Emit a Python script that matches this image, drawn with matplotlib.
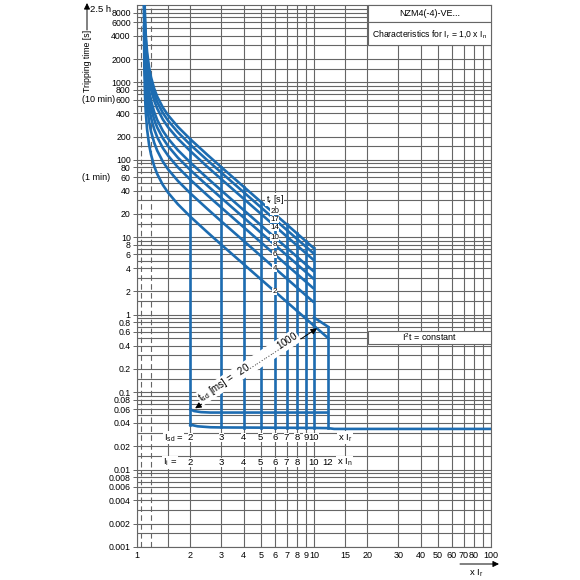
import math
import matplotlib
matplotlib.use('Agg')
import matplotlib.pyplot as plt
from matplotlib.patches import Rectangle
from matplotlib.transforms import blended_transform_factory

plt.rcParams['font.family'] = ['Liberation Sans', 'DejaVu Sans']
plt.rcParams['mathtext.fontset'] = 'custom'
plt.rcParams['mathtext.rm'] = 'Liberation Sans'
plt.rcParams['mathtext.it'] = 'Liberation Sans:italic'
plt.rcParams['font.size'] = 6.5

# long-time delay curves (tripping time in s at multiples of Ir)
lt_current = [1.095, 1.10, 1.11, 1.12, 1.14, 1.17, 1.2, 1.25, 1.3, 1.4, 1.5, 1.7, 2, 2.5, 3, 6, 10]
t_tr2 = [5500, 1580, 660, 422, 248, 157, 117, 83.4, 65.8, 47.4, 37.6, 26.8, 18.5, 11.6, 8.0, 2.0, 0.72]
t_tr4 = [11000, 3170, 1320, 844, 496, 314, 233, 167, 132, 94.8, 75.2, 53.6, 37.0, 23.2, 16.0, 4.0, 1.44]
t_tr6 = [16500, 4750, 1980, 1266, 744, 470, 350, 250, 197, 142, 113, 80.4, 55.5, 34.8, 24.1, 6.0, 2.16]
t_tr8 = [22000, 6340, 2640, 1690, 992, 627, 466, 334, 263, 190, 150, 107, 74.0, 46.4, 32.1, 8.0, 2.88]
t_tr10 = [27500, 7920, 3300, 2110, 1240, 784, 583, 417, 329, 237, 188, 134, 92.5, 58.0, 40.1, 10.0, 3.6]
t_tr14 = [38500, 11100, 4620, 2950, 1740, 1100, 816, 584, 461, 332, 263, 188, 130, 81.2, 56.1, 14.0, 5.04]
t_tr17 = [46800, 13500, 5610, 3590, 2110, 1330, 991, 709, 559, 403, 320, 228, 157, 98.6, 68.2, 17.0, 6.12]
t_tr20 = [55000, 15800, 6600, 4220, 2480, 1570, 1170, 834, 658, 474, 376, 268, 185, 116, 80.2, 20.0, 7.2]
tr_settings = [2, 4, 6, 8, 10, 14, 17, 20]
tr_label_y = [2, 4, 6, 8, 10, 13.3, 16.9, 21.5]

# tr = 2 s curve continues up to 12 x Ir
tr2_ext_current = [10, 12]
tr2_ext_time = [0.72, 0.50]

# short-time pick-up Isd (vertical drops)
isd_settings = [2, 3, 4, 5, 6, 7, 8, 9, 10]
isd_top = [185, 80.2, 45.0, 28.8, 20.0, 14.7, 11.3, 8.9, 7.2]
isd_bottom = [0.038, 0.035, 0.0349, 0.0348, 0.0347, 0.0346, 0.0345, 0.0345, 0.0345]

# short-time delay and instantaneous levels
tsd_current = [2, 2.1, 2.3, 2.6, 12]
tsd_time = [0.060, 0.057, 0.0552, 0.0545, 0.0545]
inst_current = [2, 2.2, 2.6, 3, 5, 10, 12, 13, 100]
inst_time = [0.038, 0.0362, 0.0352, 0.035, 0.0348, 0.0345, 0.0343, 0.0335, 0.0335]
i2t_current = [10, 12]
i2t_time = [0.92, 0.70]
ii_max_current = [12, 12]
ii_max_time = [0.70, 0.0343]

# axis ticks
x_major = [1, 2, 3, 4, 5, 6, 7, 8, 9, 10, 15, 20, 30, 40, 50, 60, 70, 80, 100]
x_minor = [1.5, 90]
y_major = [0.001, 0.002, 0.004, 0.006, 0.008, 0.01, 0.02, 0.04, 0.06, 0.08,
           0.1, 0.2, 0.4, 0.6, 0.8, 1, 2, 4, 6, 8, 10, 20, 40, 60, 80,
           100, 200, 400, 600, 800, 1000, 2000, 4000, 6000, 8000]
y_minor_steps = [1.5, 3, 5, 7, 9]
decades = [0.001, 0.01, 0.1, 1, 10, 100, 1000]

isd_row_labels = ['2', '3', '4', '5', '6', '7', '8', '9', '10']
ii_settings = [2, 3, 4, 5, 6, 7, 8, 10, 12]
ii_row_labels = ['2', '3', '4', '5', '6', '7', '8', '10', '12']

blue = '#1d6cb1'
grid_col = '#666666'

fig = plt.figure(figsize=(5.8, 5.8), dpi=100)
ax = fig.add_axes([137 / 580, 33 / 580, 354 / 580, 542 / 580])
ax.set_xscale('log')
ax.set_yscale('log')
ax.set_xlim(1, 100)
ax.set_ylim(0.001, 10000)

ax.set_xticks(x_major)
ax.set_xticklabels([str(v) for v in x_major])
ax.set_xticks(x_minor, minor=True)
ax.set_xticklabels([], minor=True)
ax.set_yticks(y_major)
ax.set_yticklabels([f'{v:g}' for v in y_major])
ax.set_yticks([d * s for d in decades for s in y_minor_steps], minor=True)
ax.set_yticklabels([], minor=True)
ax.tick_params(axis='x', which='both', length=0, pad=3, labelsize=6.5)
ax.tick_params(axis='y', which='major', length=3, width=0.7, color=grid_col, pad=1.5, labelsize=6.3)
ax.tick_params(axis='y', which='minor', length=0)
ax.grid(True, which='both', color=grid_col, lw=0.8)
for sp in ax.spines.values():
    sp.set_color(grid_col)
    sp.set_linewidth(0.8)

# dashed limits near 1.05 and 1.2 x Ir
for xv in [1.05, 1.2]:
    ax.axvline(xv, color=grid_col, lw=0.8, ls=(0, (5, 3)), zorder=2)

# curves
lw = 1.9
for t_vals in [t_tr2, t_tr4, t_tr6, t_tr8, t_tr10, t_tr14, t_tr17, t_tr20]:
    ax.plot(lt_current, t_vals, color=blue, lw=lw, zorder=3, solid_capstyle='butt')
ax.plot(tr2_ext_current, tr2_ext_time, color=blue, lw=lw, zorder=3)
for xs, top, bot in zip(isd_settings, isd_top, isd_bottom):
    ax.plot([xs, xs], [top, bot], color=blue, lw=lw, zorder=3)
ax.plot(tsd_current, tsd_time, color=blue, lw=lw, zorder=3)
ax.plot(inst_current, inst_time, color=blue, lw=lw, zorder=3)
ax.plot(i2t_current, i2t_time, color=blue, lw=lw, zorder=3)
ax.plot(ii_max_current, ii_max_time, color=blue, lw=lw, zorder=3)

# tr labels along 6 x Ir
lbl_box = dict(fc='white', ec='none', pad=0.1)
for tr, ty in zip(tr_settings, tr_label_y):
    ax.text(6, ty, str(tr), ha='center', va='center', fontsize=5.8, bbox=lbl_box, zorder=6)
ax.text(6, 30.5, r't$_\mathrm{r}$ [s]', ha='center', va='center', fontsize=6.5,
        bbox=lbl_box, zorder=6)

# Isd / Ii setting rows
row_box = dict(fc='white', ec='none', pad=0.6)
ax.text(1.83, 0.0257, r'I$_\mathrm{sd}$ =', ha='right', va='center', fontsize=6.8,
        bbox=row_box, zorder=6)
for xs, s in zip(isd_settings, isd_row_labels):
    ax.text(xs, 0.0257, s, ha='center', va='center', fontsize=6.8, bbox=lbl_box, zorder=6)
ax.text(13.6, 0.0257, r'x I$_\mathrm{r}$', ha='left', va='center', fontsize=6.8,
        bbox=row_box, zorder=6)
ax.text(1.68, 0.0124, r'I$_\mathrm{i}$ =', ha='right', va='center', fontsize=6.8,
        bbox=row_box, zorder=6)
for xs, s in zip(ii_settings, ii_row_labels):
    ax.text(xs, 0.0124, s, ha='center', va='center', fontsize=6.8, bbox=lbl_box, zorder=6)
ax.text(13.5, 0.0124, r'x I$_\mathrm{n}$', ha='left', va='center', fontsize=6.8,
        bbox=row_box, zorder=6)

# tsd range arrow
p_lo = (2.13, 0.0618)
p_hi = (10.4, 0.667)
ax.annotate('', xy=p_lo, xytext=p_hi,
            arrowprops=dict(arrowstyle='<|-|>', color='black', lw=0.7, mutation_scale=9,
                            shrinkA=0, shrinkB=0), zorder=4)
d0 = ax.transData.transform(p_lo)
d1 = ax.transData.transform(p_hi)
ang = math.degrees(math.atan2(d1[1] - d0[1], d1[0] - d0[0]))
ax.text(4.25, 0.21, r't$_\mathrm{sd}$ [ms] =   20.............1000', rotation=ang,
        rotation_mode='anchor', ha='center', va='center', fontsize=7,
        bbox=dict(fc='white', ec='none', pad=0.3), zorder=6)

# boxes (axes fraction)
box_kw = dict(transform=ax.transAxes, fc='white', ec=grid_col, lw=0.8, zorder=5, clip_on=False)
bx0 = (368 - 137) / 354
ax.add_patch(Rectangle((bx0, 1 - 17 / 542), 1 - bx0, 17 / 542, **box_kw))
ax.add_patch(Rectangle((bx0, 1 - 40 / 542), 1 - bx0, 23 / 542, **box_kw))
ax.text((bx0 + 1) / 2, 1 - 8.5 / 542, 'NZM4(-4)-VE...', transform=ax.transAxes,
        ha='center', va='center', fontsize=6.5, zorder=6)
ax.text((bx0 + 1) / 2, 1 - 28.5 / 542, r'Characteristics for I$_\mathrm{r}$ = 1,0 x I$_\mathrm{n}$',
        transform=ax.transAxes, ha='center', va='center', fontsize=6.2, zorder=6)
ax.add_patch(Rectangle((bx0, 1 - 339 / 542), 1 - bx0, 13 / 542, **box_kw))
ax.text((bx0 + 1) / 2, 1 - 332.5 / 542, r'I$^\mathrm{2}$t = constant', transform=ax.transAxes,
        ha='center', va='center', fontsize=6.5, zorder=6)

# left side annotations
side = blended_transform_factory(fig.transFigure, ax.transData)
ax.text(82 / 580, 600, '(10 min)', transform=side, ha='left', va='center', fontsize=6.5)
ax.text(82 / 580, 60, '(1 min)', transform=side, ha='left', va='center', fontsize=6.5)
fig.text(88 / 580, 1 - 61 / 580, 'Tripping time [s]', rotation=90, ha='center', va='center',
         fontsize=6.3)
ax.annotate('', xy=(87 / 580, 1 - 3 / 580), xytext=(87 / 580, 1 - 30 / 580),
            xycoords='figure fraction', textcoords='figure fraction',
            arrowprops=dict(arrowstyle='-|>', color='black', lw=0.7, mutation_scale=9,
                            shrinkA=0, shrinkB=0))
fig.text(90 / 580, 1 - 9 / 580, '2.5 h', ha='left', va='center', fontsize=6.8)

# x axis arrow
ax.annotate('', xy=(499 / 580, 1 - 564 / 580), xytext=(460 / 580, 1 - 564 / 580),
            xycoords='figure fraction', textcoords='figure fraction',
            arrowprops=dict(arrowstyle='-|>', color='black', lw=0.7, mutation_scale=9,
                            shrinkA=0, shrinkB=0))
fig.text(476 / 580, 1 - 573 / 580, r'x I$_\mathrm{r}$', ha='center', va='center', fontsize=6.8)

fig.savefig('out.png', dpi=100)
